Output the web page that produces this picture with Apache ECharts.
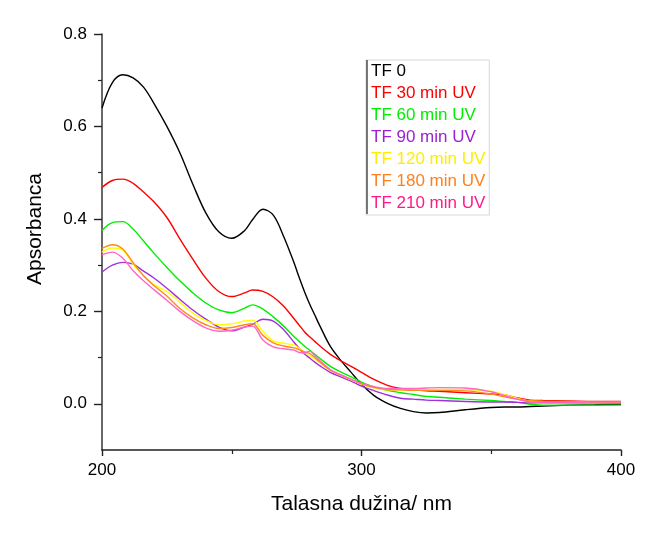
<!DOCTYPE html>
<html>
<head>
<meta charset="utf-8">
<script src="https://cdn.jsdelivr.net/npm/echarts@6/dist/echarts.min.js"></script>
<style>html,body{margin:0;padding:0;background:#fff;}#chart{width:653px;height:539px;}</style>
</head>
<body>
<div id="chart"></div>
<script>
const wavelengths = [200,204,208,212,216,220,225,230,235,240,245,250,255,258,262,266,270,274,276,278,280,282,284,288,292,296,300,305,310,315,320,325,330,340,350,355,360,365,370,380,390,400];
const seriesNames = ['TF 0','TF 30 min UV','TF 60 min UV','TF 90 min UV','TF 120 min UV','TF 180 min UV','TF 210 min UV'];
const tf0   = [0.640,0.695,0.712,0.705,0.685,0.650,0.600,0.543,0.475,0.413,0.372,0.358,0.375,0.398,0.421,0.408,0.362,0.305,0.273,0.243,0.216,0.192,0.168,0.124,0.094,0.068,0.042,0.017,0.001,-0.010,-0.017,-0.020,-0.019,-0.013,-0.008,-0.007,-0.007,-0.006,-0.005,-0.003,-0.002,-0.001];
const tf30  = [0.468,0.483,0.486,0.477,0.458,0.437,0.403,0.357,0.313,0.272,0.243,0.232,0.240,0.246,0.243,0.231,0.211,0.184,0.170,0.156,0.145,0.135,0.125,0.107,0.093,0.081,0.068,0.052,0.040,0.033,0.030,0.028,0.027,0.024,0.021,0.019,0.013,0.008,0.007,0.006,0.005,0.005];
const tf60  = [0.375,0.392,0.394,0.378,0.352,0.326,0.295,0.266,0.240,0.218,0.203,0.197,0.207,0.214,0.205,0.188,0.168,0.145,0.135,0.125,0.116,0.107,0.098,0.081,0.069,0.058,0.047,0.036,0.029,0.024,0.020,0.016,0.014,0.010,0.007,0.005,0.003,-0.001,-0.003,-0.003,-0.003,-0.003];
const tf90  = [0.285,0.300,0.306,0.302,0.287,0.272,0.250,0.226,0.203,0.183,0.166,0.158,0.166,0.172,0.183,0.179,0.160,0.133,0.120,0.108,0.099,0.090,0.082,0.068,0.058,0.049,0.038,0.028,0.019,0.012,0.010,0.008,0.007,0.005,0.004,0.004,0.003,0.002,0.002,0.002,0.002,0.002];
const tf120 = [0.328,0.337,0.333,0.302,0.278,0.258,0.243,0.220,0.196,0.180,0.171,0.173,0.179,0.181,0.157,0.136,0.131,0.127,0.120,0.112,0.104,0.097,0.089,0.072,0.062,0.052,0.042,0.034,0.030,0.030,0.030,0.031,0.031,0.031,0.027,0.020,0.012,0.006,0.005,0.004,0.003,0.003];
const tf180 = [0.336,0.344,0.335,0.305,0.277,0.256,0.233,0.206,0.186,0.171,0.163,0.165,0.171,0.173,0.148,0.132,0.125,0.121,0.117,0.112,0.109,0.100,0.090,0.073,0.062,0.053,0.043,0.035,0.031,0.030,0.029,0.029,0.029,0.028,0.021,0.015,0.010,0.006,0.005,0.005,0.004,0.004];
const tf210 = [0.322,0.328,0.315,0.288,0.266,0.247,0.224,0.200,0.180,0.164,0.157,0.159,0.166,0.168,0.138,0.123,0.119,0.116,0.111,0.110,0.114,0.104,0.093,0.074,0.063,0.053,0.044,0.037,0.033,0.033,0.033,0.034,0.035,0.034,0.026,0.018,0.010,0.004,0.003,0.003,0.002,0.002];
const yTickLabels = [0, 0.2, 0.4, 0.6, 0.8];
const yMinorTicks = [0.1, 0.3, 0.5, 0.7];

const allValues = [tf0, tf30, tf60, tf90, tf120, tf180, tf210];
const lineColors = ['#000000','#ff0000','#00ee00','#a030dc','#ffff00','#ff8a1c','#ff66c8'];
const textColors = ['#000000','#ff0000','#00ee00','#9a22d0','#ffee00','#ff8020','#ff1a8c'];
const FONT = '"Liberation Sans", Arial, sans-serif';

const chart = echarts.init(document.getElementById('chart'));
chart.setOption({
  backgroundColor: '#ffffff',
  animation: false,
  textStyle: { fontFamily: FONT },
  grid: { left: 102, right: 32, top: 34, bottom: 89 },
  legend: {
    orient: 'vertical',
    left: 366, top: 60,
    padding: [3, 4, 3, 0],
    itemGap: 5,
    itemWidth: 0, itemHeight: 0,
    icon: 'rect',
    borderColor: '#d8d8d8', borderWidth: 1,
    textStyle: { fontSize: 17, fontFamily: FONT },
    data: seriesNames.map((n, i) => ({ name: n, textStyle: { color: textColors[i] } }))
  },
  graphic: [{
    type: 'line', shape: { x1: 367, y1: 60, x2: 367, y2: 214 },
    style: { stroke: '#222', lineWidth: 1.2 }, z: 100
  }],
  xAxis: {
    type: 'value', min: 200, max: 400, interval: 100,
    name: 'Talasna dužina/ nm', nameLocation: 'middle', nameGap: 44,
    nameTextStyle: { fontSize: 21, color: '#000', fontFamily: FONT },
    axisLine: { show: true, onZero: false, lineStyle: { color: '#222', width: 1.6 } },
    axisTick: { show: true, length: 6, lineStyle: { color: '#222', width: 1.4 } },
    minorTick: { show: true, splitNumber: 2, length: 4, lineStyle: { color: '#222', width: 1.2 } },
    axisLabel: { fontSize: 17, color: '#000', margin: 12, fontFamily: FONT },
    splitLine: { show: false }, minorSplitLine: { show: false }
  },
  yAxis: [{
    type: 'value', min: -0.1, max: 0.8, interval: 0.1,
    name: 'Apsorbanca', nameLocation: 'middle', nameGap: 56, nameRotate: 90,
    nameTextStyle: { fontSize: 21, color: '#000', fontFamily: FONT, padding: [0, 0, 0, 26] },
    axisLine: { show: true, onZero: false, lineStyle: { color: '#444', width: 1.6 } },
    axisTick: { show: true, length: 8, customValues: yTickLabels, lineStyle: { color: '#222', width: 1.4 } },
    axisLabel: { fontSize: 17, color: '#000', margin: 15, customValues: yTickLabels, fontFamily: FONT,
      formatter: v => v.toFixed(1) },
    splitLine: { show: false }
  }, {
    type: 'value', min: -0.1, max: 0.8, interval: 0.1, position: 'left',
    axisLine: { show: false },
    axisTick: { show: true, length: 4, customValues: yMinorTicks, lineStyle: { color: '#222', width: 1.2 } },
    axisLabel: { show: false },
    splitLine: { show: false }
  }],
  series: allValues.map((vals, i) => ({
    name: seriesNames[i],
    type: 'line',
    yAxisIndex: 0,
    smooth: 0.35,
    showSymbol: false,
    symbol: 'none',
    lineStyle: { color: lineColors[i], width: 1.4 },
    itemStyle: { color: lineColors[i] },
    data: wavelengths.map((w, j) => [w, vals[j]])
  }))
});
</script>
</body>
</html>
